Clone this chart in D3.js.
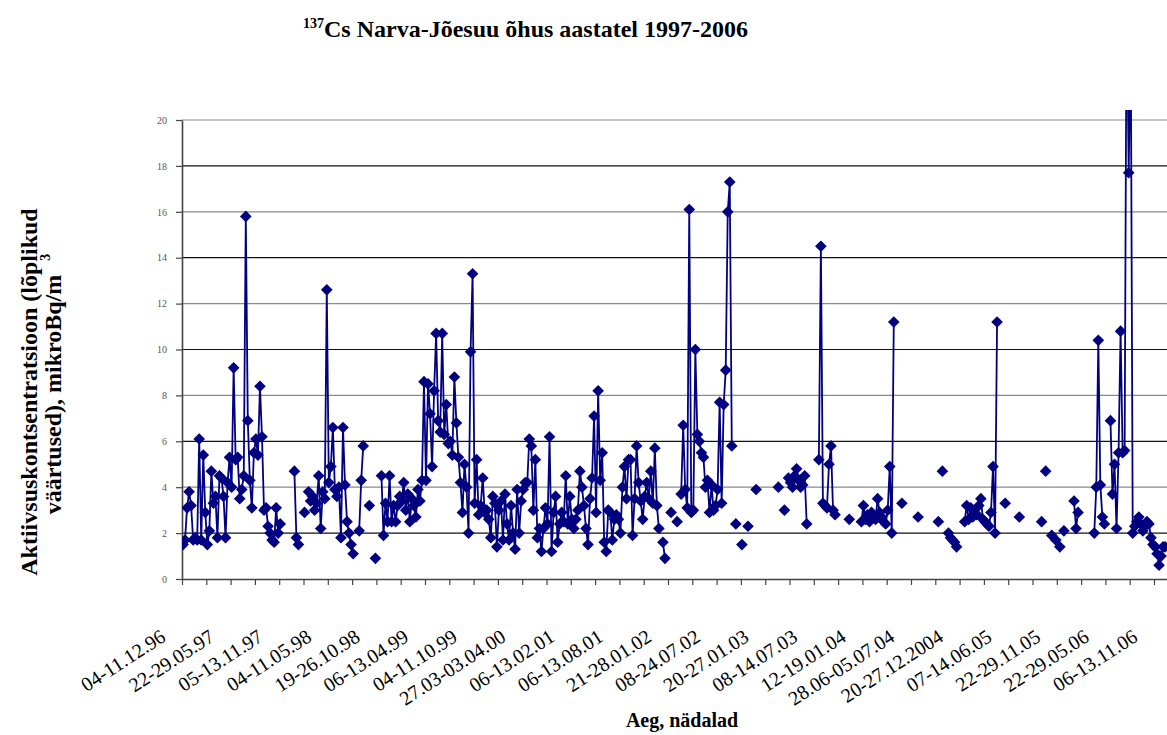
<!DOCTYPE html>
<html>
<head>
<meta charset="utf-8">
<script src="https://cdn.jsdelivr.net/npm/d3@7"></script>
<style>
  body { margin: 0; background: #fff; }
  text { font-family: "Liberation Serif", "Times New Roman", serif; }
</style>
</head>
<body>
<script>
// week labels shown under the axis (every 24th week)
const weekLabels = ["04-11.12.96", "22-29.05.97", "05-13.11.97", "04-11.05.98", "19-26.10.98",
  "06-13.04.99", "04-11.10.99", "27.03-03.04.00", "06-13.02.01", "06-13.08.01", "21-28.01.02",
  "08-24.07.02", "20-27.01.03", "08-14.07.03", "12-19.01.04", "28.06-05.07.04", "20-27.12.2004",
  "07-14.06.05", "22-29.11.05", "22-29.05.06", "06-13.11.06"];
const yTicks = [0, 2, 4, 6, 8, 10, 12, 14, 16, 18, 20];
const weeksPerTick = 12, weeksPerLabel = 24, weekCount = 488;

// 137Cs weekly values, mikroBq/m3 (null = no measurement), one row per label period
const weekValues = [
  1.5, 1.7, 3.1, 3.8, 3.2, 1.7, 1.8, 1.7, 6.1, 1.7, 5.4, 2.9, 1.5, 2.1, 4.7, 3.3, 3.6, 1.8, 4.5, 4.4, 3.6, 1.8, 4.2, 5.3,
  4.0, 9.2, 5.2, 5.3, 3.5, 3.9, 4.5, 15.8, 6.9, 4.3, 3.1, 5.5, 6.1, 5.4, 8.4, 6.2, 3.0, 3.1, 2.3, 2.0, 1.7, 1.6, 3.1, 2.0,
  2.4, null, null, null, null, null, null, 4.7, 1.8, 1.5, null, null, 2.9, null, 3.8, 3.4, 3.6, 3.0, 3.3, 4.5, 2.2, 3.8, 3.5, 12.6,
  4.2, 4.9, 6.6, 3.9, 3.6, 4.0, 1.8, 6.6, 4.1, 2.5, 2.0, 1.5, 1.1, null, null, 2.1, 4.3, 5.8, null, null, 3.2, null, null, 0.9,
  null, null, 4.5, 1.9, 3.3, 2.5, 4.5, 2.5, 3.2, 2.5, 3.2, 3.6, 3.4, 4.2, 3.0, 3.7, 2.5, 3.5, 3.2, 2.7, 3.9, 3.4, 4.3, 8.6,
  4.3, 8.5, 7.2, 4.9, 8.2, 10.7, 6.9, 6.4, 10.7, 6.3, 7.6, 5.9, 6.0, 5.4, 8.8, 6.8, 5.3, 4.2, 2.9, 5.0, 4.0, 2.0, 9.9, 13.3,
  3.3, 5.2, 2.8, 3.2, 4.4, 2.9, 3.0, 2.6, 1.8, 3.6, 3.3, 1.4, 3.0, 3.4, 1.7, 3.7, 2.4, 1.7, 3.2, 2.0, 1.3, 3.9, 2.0, 3.4,
  3.9, 4.2, 4.2, 6.1, 5.8, 3.0, 5.2, 1.8, 2.2, 1.2, 2.2, 3.1, 2.4, 6.2, 1.2, 2.9, 3.6, 1.6, 2.4, 2.9, 2.5, 4.5, 2.4, 3.6,
  2.6, 2.2, 2.6, 3.0, 4.7, 4.0, 3.2, 2.2, 1.5, 3.5, 4.4, 7.1, 2.9, 8.2, 4.3, 5.5, 1.6, 1.2, 3.0, 2.9, 1.7, 2.6, 2.8, 2.6,
  2.0, 4.0, 4.9, 3.5, 5.2, 5.2, 1.9, 3.5, 5.8, 4.2, 3.4, 2.6, 3.6, 4.2, 3.5, 4.7, 3.3, 5.7, 3.2, 2.2, null, 1.6, 0.9, null,
  null, 2.9, null, null, 2.5, null, 3.7, 6.7, 3.9, 3.1, 16.1, 2.9, 3.0, 10.0, 6.3, 6.0, 5.5, 5.3, 4.0, 4.3, 2.9, 4.1, 3.0, 3.2,
  3.9, 7.7, 3.3, 7.6, 9.1, 16.0, 17.3, 5.8, null, 2.4, null, null, 1.5, null, null, 2.3, null, null, null, 3.9, null, null, null, null,
  null, null, null, null, null, null, 4.0, null, null, 3.0, null, 4.4, 4.2, 4.0, 4.5, 4.8, 4.3, 4.0, 4.1, 4.5, 2.4, null, null, null,
  null, null, 5.2, 14.5, 3.3, 3.2, 3.1, 5.0, 5.8, 3.0, 2.8, null, null, null, null, null, null, 2.6, null, null, null, null, null, 2.5,
  3.2, 2.6, 2.8, 2.5, 2.9, 2.7, 2.6, 3.5, 2.9, 2.7, 2.5, 2.4, 3.0, 4.9, 2.0, 11.2, null, null, null, 3.3, null, null, null, null,
  null, null, null, 2.7, null, null, null, null, null, null, null, null, null, 2.5, null, 4.7, null, null, 2.0, 1.8, 1.7, 1.6, 1.4, null,
  null, null, 2.5, 3.2, 2.6, 3.1, 2.7, 2.9, 2.8, 3.2, 3.5, 2.6, 2.5, 2.4, 2.3, 2.9, 4.9, 2.0, 11.2, null, null, null, 3.3, null,
  null, null, null, null, null, 2.7, null, null, null, null, null, null, null, null, null, null, 2.5, null, 4.7, null, null, 1.9, null, 1.7,
  null, 1.4, null, 2.1, null, null, null, null, 3.4, 2.2, 2.9, null, null, null, null, null, null, null, 2.0, 4.0, 10.4, 4.1, 2.7, 2.4,
  null, null, 6.9, 3.7, 5.0, 2.2, 5.5, 10.8, 5.5, 5.6, 26.0, 17.7, 24.0, 2.0, 2.3, 2.5, 2.7, 2.4, 2.1, 2.3, 2.5, 2.4, 1.8, 1.5,
  1.4, 1.1, 0.6, 1.0, 1.4, 1.4
];

const width = 1167, height = 735;
const plot = { left: 182, top: 120, bottom: 579 };
const serif = "'Liberation Serif', 'Times New Roman', serif";

const svg = d3.select("body").append("svg")
  .attr("width", width)
  .attr("height", height)
  .style("display", "block");

const x = d3.scaleLinear().domain([0, weekCount]).range([plot.left, plot.left + weekCount * 2.025]);
const y = d3.scaleLinear().domain([0, 20]).range([plot.bottom, plot.top]);

// gridlines (alternating grey / black like the original)
svg.append("g").selectAll("line")
  .data(yTicks.filter(d => d > 0))
  .enter().append("line")
  .attr("x1", plot.left).attr("x2", width)
  .attr("y1", d => y(d)).attr("y2", d => y(d))
  .style("stroke", d => (d % 4 === 0) ? "#8a8a8a" : "#111")
  .style("stroke-width", 1.2);

// y axis
const yAxis = svg.append("g")
  .attr("transform", "translate(" + plot.left + ",0)")
  .call(d3.axisLeft(y).tickValues(yTicks).tickSize(6).tickSizeOuter(0).tickPadding(9));
yAxis.select(".domain").style("stroke", "#444").style("stroke-width", 1.6);
yAxis.selectAll(".tick line").style("stroke", "#444").style("stroke-width", 1.2);
yAxis.selectAll("text")
  .attr("font-family", serif)
  .style("font-family", serif)
  .style("font-size", "10px")
  .style("fill", "#555");

// x axis
const xAxis = svg.append("g")
  .attr("transform", "translate(0," + plot.bottom + ")")
  .call(d3.axisBottom(x).tickValues(d3.range(0, weekCount + 1, weeksPerTick)).tickFormat("").tickSize(6).tickSizeOuter(0));
xAxis.select(".domain").style("stroke", "#444").style("stroke-width", 1.6);
xAxis.selectAll(".tick line").style("stroke", "#444").style("stroke-width", 1.2);

// rotated week labels
svg.append("g").selectAll("text")
  .data(weekLabels)
  .enter().append("text")
  .attr("transform", (d, k) => "translate(" + (x(k * weeksPerLabel) - 15) + ",640) rotate(-33)")
  .style("text-anchor", "end")
  .style("font-family", serif)
  .style("font-size", "20px")
  .style("fill", "#000")
  .text(d => d);

// series
svg.append("clipPath").attr("id", "clip")
  .append("rect").attr("x", plot.left).attr("y", 110).attr("width", width - plot.left).attr("height", plot.bottom - 105);

const points = weekValues.map((v, i) => ({ i: i, v: v }));
const series = svg.append("g").attr("clip-path", "url(#clip)");

series.append("path")
  .datum(points)
  .attr("fill", "none")
  .style("stroke", "#000080")
  .style("stroke-width", 1.8)
  .attr("d", d3.line()
    .defined(d => d.v !== null)
    .x(d => x(d.i + 0.5))
    .y(d => y(d.v)));

series.selectAll(".marker")
  .data(points.filter(d => d.v !== null))
  .enter().append("path")
  .attr("class", "marker")
  .attr("transform", d => "translate(" + x(d.i + 0.5) + "," + y(d.v) + ") rotate(45)")
  .attr("d", d3.symbol().type(d3.symbolSquare).size(68))
  .style("fill", "#000080");

// title
const title = svg.append("text")
  .attr("x", 303).attr("y", 37)
  .style("font-weight", "bold")
  .style("font-size", "24px");
title.append("tspan").attr("dy", -9).style("font-size", "14px").text("137");
title.append("tspan").attr("dy", 9).text("Cs Narva-Jõesuu õhus aastatel 1997-2006");

// axis titles
svg.append("text")
  .attr("x", 682).attr("y", 727)
  .style("text-anchor", "middle")
  .style("font-weight", "bold")
  .style("font-size", "20px")
  .text("Aeg, nädalad");

const yTitle = svg.append("g").attr("transform", "translate(0,392) rotate(-90)");
yTitle.append("text")
  .attr("x", 0).attr("y", 37)
  .style("text-anchor", "middle")
  .style("font-weight", "bold")
  .style("font-size", "24px")
  .text("Aktiivsuskontsentratsioon (lõplikud");
const yTitle2 = yTitle.append("text")
  .attr("x", 8).attr("y", 61)
  .style("text-anchor", "middle")
  .style("font-weight", "bold")
  .style("font-size", "24px");
yTitle2.append("tspan").text("väärtused), mikroBq/m");
yTitle2.append("tspan").attr("dx", 14).attr("dy", -11).style("font-size", "14px").text("3");
</script>
</body>
</html>
